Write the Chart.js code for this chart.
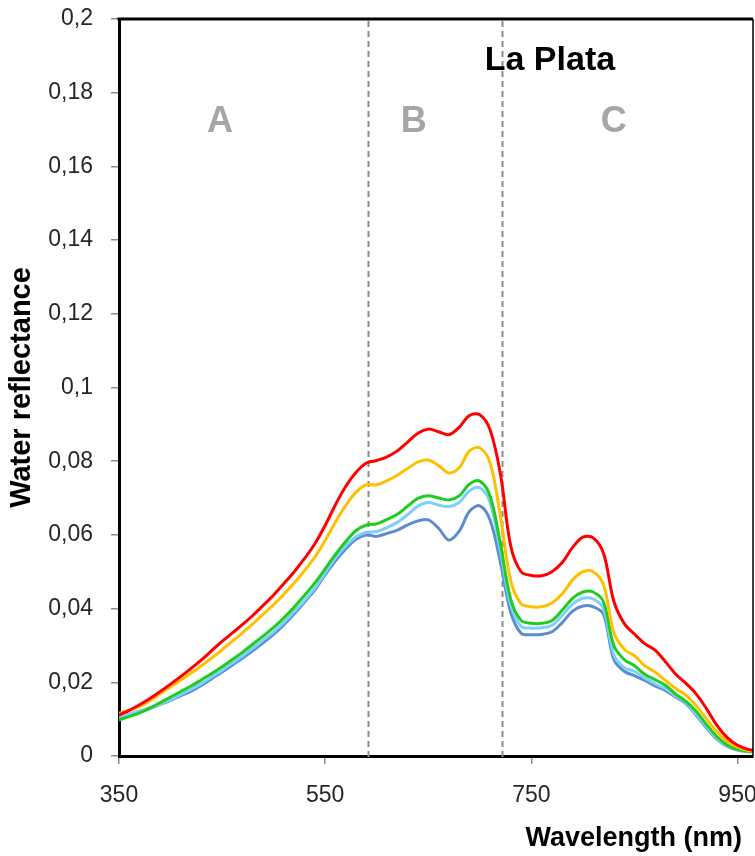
<!DOCTYPE html>
<html>
<head>
<meta charset="utf-8">
<script src="https://cdn.jsdelivr.net/npm/chart.js@4"></script>
<style>
  html, body { margin: 0; padding: 0; background: #fff; }
  #wrap { width: 755px; height: 856px; position: relative; }
</style>
</head>
<body>
<div id="wrap"><canvas id="c"></canvas></div>
<script>
// ---- data ----
const wavelengths = [350,360,370,380,390,400,410,420,430,440,450,460,470,480,490,500,510,520,530,540,550,560,570,580,590,600,610,620,630,640,650,660,670,680,690,700,710,720,730,740,750,760,770,780,790,800,810,820,830,840,850,860,870,880,890,900,910,920,930,940,950,960,965];

const seriesRed = [.0111,.0124,.0139,.0156,.0175,.0195,.0216,.0238,.0261,.0286,.0311,.0334,.0357,.0382,.0409,.0437,.0468,.0500,.0536,.0576,.0626,.0682,.0732,.0770,.0795,.0802,.0812,.0828,.0852,.0876,.0887,.0880,.0872,.0892,.0924,.0926,.0885,.0765,.0570,.0500,.0490,.0489,.0500,.0525,.0566,.0594,.0592,.0550,.0420,.0360,.0331,.0305,.0287,.0256,.0222,.0197,.0168,.0128,.0083,.0050,.0029,.0018,.0016];

const seriesOrange = [.0116,.0124,.0134,.0150,.0169,.0188,.0206,.0225,.0245,.0266,.0288,.0312,.0335,.0359,.0385,.0411,.0439,.0470,.0503,.0540,.0585,.0635,.0680,.0716,.0736,.0736,.0747,.0762,.0780,.0798,.0803,.0788,.0768,.0782,.0828,.0836,.0795,.0650,.0475,.0413,.0405,.0405,.0415,.0440,.0478,.0500,.0500,.0465,.0335,.0290,.0272,.0245,.0228,.0205,.0183,.0165,.0136,.0100,.0066,.0040,.0024,.0015,.0013];

const seriesGreen = [.0098,.0107,.0117,.0130,.0145,.0160,.0175,.0190,.0207,.0224,.0242,.0262,.0282,.0304,.0326,.0349,.0375,.0404,.0436,.0470,.0508,.0547,.0582,.0612,.0627,.0630,.0642,.0656,.0678,.0699,.0706,.0700,.0695,.0706,.0738,.0746,.0705,.0575,.0425,.0368,.0360,.0360,.0368,.0396,.0428,.0445,.0445,.0418,.0300,.0262,.0245,.0222,.0207,.0192,.0168,.0148,.0121,.0085,.0053,.0030,.0018,.0013,.0012];

const seriesLightBlue = [.0107,.0114,.0122,.0131,.0141,.0153,.0167,.0181,.0197,.0215,.0233,.0252,.0272,.0293,.0315,.0337,.0363,.0392,.0422,.0456,.0497,.0537,.0570,.0595,.0607,.0609,.0620,.0634,.0655,.0678,.0688,.0681,.0677,.0688,.0720,.0728,.0688,.0555,.0410,.0352,.0347,.0348,.0355,.0382,.0412,.0428,.0426,.0400,.0275,.0240,.0230,.0212,.0196,.0183,.0163,.0145,.0113,.0079,.0048,.0027,.0017,.0012,.0011];

const seriesBlue = [.0102,.0110,.0119,.0129,.0140,.0151,.0164,.0176,.0192,.0210,.0228,.0247,.0266,.0286,.0308,.0330,.0356,.0386,.0418,.0451,.0492,.0530,.0562,.0588,.0600,.0596,.0604,.0613,.0627,.0638,.0641,.0618,.0586,.0610,.0664,.0679,.0640,.0525,.0390,.0333,.0329,.0330,.0337,.0362,.0393,.0407,.0405,.0385,.0262,.0230,.0218,.0205,.0190,.0178,.0160,.0142,.0110,.0076,.0046,.0026,.0016,.0012,.0011];

const xTickValues = [350, 550, 750, 950];
const regionBounds = [592, 722];          // dashed separators (nm)
const regionLabels = ['A', 'B', 'C'];
const regionLabelX = [448, 636, 830];     // nm
const regionLabelY = 0.172;
const chartTitle = 'La Plata';
const chartTitleX = 768;
const chartTitleY = 0.1886;
const xTitle = 'Wavelength (nm)';
const yTitle = 'Water reflectance';

// ---- chart ----
const FONT = "'Liberation Sans', Arial, sans-serif";

const toPts = arr => arr.map((v, i) => ({ x: wavelengths[i], y: v }));

const zeroPad = s => { s.paddingLeft = 0; s.paddingRight = 0; s.paddingTop = 0; s.paddingBottom = 0; };

const overlay = {
  id: 'overlay',
  beforeDatasetsDraw(chart) {
    const { ctx, chartArea: a, scales: { x } } = chart;
    ctx.save();
    ctx.strokeStyle = '#8c8c8c';
    ctx.lineWidth = 2;
    ctx.setLineDash([6, 4]);
    regionBounds.forEach(b => {
      const px = Math.round(x.getPixelForValue(b)) + 0.5;
      ctx.beginPath();
      ctx.moveTo(px, a.top + 2);
      ctx.lineTo(px, a.bottom + 5);
      ctx.stroke();
    });
    ctx.restore();
  },
  afterDraw(chart) {
    const { ctx, chartArea: a, scales: { x, y } } = chart;
    ctx.save();
    // frame top & right
    ctx.strokeStyle = '#000';
    ctx.lineWidth = 3;
    ctx.beginPath();
    ctx.moveTo(a.left - 1.5, a.top);
    ctx.lineTo(a.right, a.top);
    ctx.stroke();
    ctx.lineWidth = 1.5;
    ctx.beginPath();
    ctx.moveTo(a.right, a.top);
    ctx.lineTo(a.right, a.bottom);
    ctx.stroke();
    // region letters
    ctx.fillStyle = '#a6a6a6';
    ctx.font = `bold 36px ${FONT}`;
    ctx.textAlign = 'center';
    ctx.textBaseline = 'middle';
    regionLabels.forEach((t, i) => {
      ctx.fillText(t, x.getPixelForValue(regionLabelX[i]), y.getPixelForValue(regionLabelY));
    });
    // title
    ctx.fillStyle = '#000';
    ctx.font = `bold 34px ${FONT}`;
    ctx.fillText(chartTitle, x.getPixelForValue(chartTitleX), y.getPixelForValue(chartTitleY));
    // x axis title
    ctx.font = `bold 27px ${FONT}`;
    ctx.textAlign = 'right';
    ctx.textBaseline = 'alphabetic';
    ctx.fillText(xTitle, a.right - 11, 846);
    ctx.restore();
  }
};

new Chart(document.getElementById('c'), {
  type: 'line',
  data: {
    datasets: [
      { label: 'red', data: toPts(seriesRed), borderColor: '#ff0000' },
      { label: 'orange', data: toPts(seriesOrange), borderColor: '#ffc000' },
      { label: 'green', data: toPts(seriesGreen), borderColor: '#1fcc1f' },
      { label: 'lightblue', data: toPts(seriesLightBlue), borderColor: '#7dd0f8' },
      { label: 'blue', data: toPts(seriesBlue), borderColor: '#5a8dd4' }
    ]
  },
  options: {
    responsive: true,
    maintainAspectRatio: false,
    animation: false,
    datasets: {
      line: {
        borderWidth: 3,
        pointRadius: 0,
        tension: 0.35,
        borderJoinStyle: 'round',
        borderCapStyle: 'round',
        fill: false
      }
    },
    layout: { padding: { top: 19, right: 2, left: 0, bottom: 0 } },
    plugins: {
      legend: { display: false },
      tooltip: { enabled: false }
    },
    scales: {
      x: {
        type: 'linear',
        min: 350,
        max: 965,
        afterBuildTicks: s => { s.ticks = xTickValues.map(v => ({ value: v })); },
        afterFit: s => { s.height = 100; zeroPad(s); },
        ticks: {
          autoSkip: false,
          maxRotation: 0,
          padding: 18,
          color: '#262626',
          font: { family: FONT, size: 23 },
          callback: v => String(v)
        },
        grid: {
          drawOnChartArea: false,
          drawTicks: true,
          tickLength: 8,
          color: '#8c8c8c',
          lineWidth: 1.5
        },
        border: { display: true, color: '#000', width: 3 },
        title: { display: false }
      },
      y: {
        min: 0,
        max: 0.2,
        afterFit: s => { s.width = 119; zeroPad(s); },
        ticks: {
          stepSize: 0.02,
          padding: 18,
          color: '#262626',
          font: { family: FONT, size: 23 },
          callback: v => (Math.abs(v) < 1e-9 ? '0' : String(+v.toFixed(2)).replace('.', ','))
        },
        grid: {
          drawOnChartArea: false,
          drawTicks: true,
          tickLength: 8,
          color: '#8c8c8c',
          lineWidth: 1.5
        },
        border: { display: true, color: '#000', width: 3 },
        title: {
          display: true,
          text: yTitle,
          color: '#000',
          font: { family: FONT, size: 29, weight: 'bold' },
          padding: { top: 5, bottom: 0 }
        }
      }
    }
  },
  plugins: [overlay]
});
</script>
</body>
</html>
